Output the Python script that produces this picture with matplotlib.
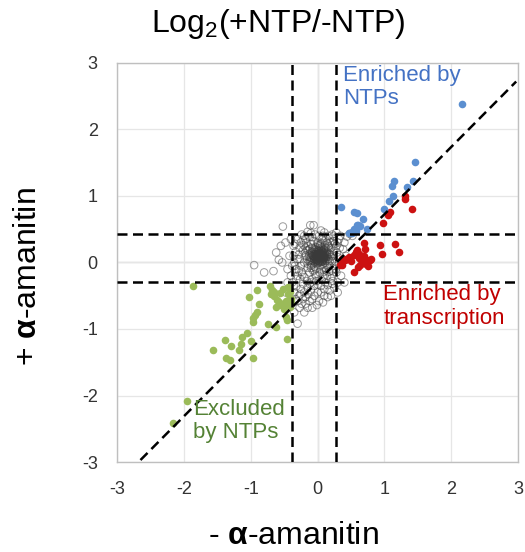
import matplotlib

matplotlib.use("Agg")
import matplotlib.pyplot as plt

plt.rcParams["font.family"] = ["Liberation Sans", "DejaVu Sans"]
plt.rcParams["mathtext.fontset"] = "custom"
plt.rcParams["mathtext.rm"] = "Liberation Sans"
plt.rcParams["mathtext.bf"] = "Liberation Sans:bold"

# enriched by NTPs (blue)
blue_x = [2.16, 1.45, 1.14, 1.11, 1.43, 1.34, 1.13, 1.07, 1.00, 0.35, 0.54, 0.59,
          0.68, 0.60, 0.64, 0.58, 0.52, 0.74, 0.54, 0.59, 0.51, 0.47, 0.56]
blue_y = [2.39, 1.51, 1.22, 1.15, 1.22, 1.13, 1.00, 0.92, 0.80, 0.84, 0.76, 0.75,
          0.65, 0.56, 0.55, 0.47, 0.46, 0.51, 0.51, 0.56, 0.45, 0.44, 0.48]

# enriched by transcription (red)
red_x = [1.31, 1.30, 1.41, 1.09, 1.06, 0.98, 0.69, 0.71, 0.61, 0.54, 0.36, 0.41,
         0.79, 0.76, 0.54, 0.94, 1.15, 0.96, 1.21, 0.63, 0.43, 0.37, 0.34, 0.60,
         0.74, 0.80, 0.64, 0.57, 0.59, 0.69, 0.66, 0.50, 0.47, 0.72, 0.62]
red_y = [1.00, 0.95, 0.80, 0.76, 0.71, 0.60, 0.29, 0.21, 0.14, 0.11, -0.04, 0.03,
         0.04, -0.06, -0.15, 0.26, 0.28, 0.13, 0.16, -0.04, 0.05, 0.05, -0.04, -0.07,
         0.04, 0.05, 0.11, 0.16, 0.19, 0.09, 0.00, 0.02, 0.08, -0.02, 0.06]

# excluded by NTPs (green)
green_x = [-1.86, -0.90, -1.02, -0.68, -0.65, -0.71, -0.62, -0.45, -0.42, -0.40,
           -0.44, -0.47, -0.41, -0.61, -0.58, -0.55, -0.90, -0.93, -0.96, -0.96,
           -0.74, -0.62, -0.46, -0.47, -1.06, -1.13, -1.38, -1.30, -1.15, -1.17,
           -0.99, -1.57, -1.37, -1.31, -0.97, -0.46, -1.95, -2.17, -0.70, -0.52,
           -0.43, -0.66, -0.50, -0.40, -0.57, -0.88, -0.45]
green_y = [-0.35, -0.41, -0.52, -0.41, -0.44, -0.36, -0.67, -0.37, -0.45, -0.55,
           -0.63, -0.58, -0.67, -0.56, -0.60, -0.64, -0.74, -0.79, -0.84, -0.90,
           -0.92, -0.97, -0.86, -0.82, -1.06, -1.12, -1.16, -1.25, -1.23, -1.32,
           -1.18, -1.32, -1.43, -1.47, -1.44, -1.15, -2.08, -2.42, -0.48, -0.40,
           -0.38, -0.50, -0.70, -0.60, -0.46, -0.62, -0.48]

# all other transcripts (grey open circles)
gray_x = [0.02, 0.05, -0.03, 0.08, 0.00, -0.06, 0.10, 0.04, -0.02, 0.07,
          -0.08, 0.12, 0.01, -0.05, 0.09, 0.03, -0.10, 0.14, 0.06, -0.01,
          0.00, 0.11, -0.07, 0.04, -0.04, 0.15, 0.02, -0.12, 0.08, 0.05,
          -0.02, 0.03, 0.07, -0.05, 0.01, 0.10, -0.09, 0.13, 0.04, -0.03,
          0.06, -0.01, 0.09, -0.06, 0.02, 0.12, -0.11, 0.16, 0.00, 0.05,
          0.03, -0.04, 0.06, 0.09, -0.07, 0.01, 0.11, -0.02, 0.05, 0.08,
          -0.09, 0.13, 0.00, -0.03, 0.07, 0.04, -0.13, 0.17, 0.02, -0.06,
          0.10, -0.01, 0.14, -0.08, 0.06, 0.03, -0.11, 0.12, 0.01, 0.08,
          -0.14, -0.16, 0.18, 0.19, -0.10, 0.15, -0.05, 0.04, 0.09, -0.18,
          0.16, -0.12, 0.06, -0.02, 0.11, 0.00, -0.07, 0.13, 0.20, -0.15,
          0.07, -0.04, 0.02, 0.10, -0.09, 0.05, 0.14, -0.01, 0.08, 0.03,
          0.01, 0.04, -0.02, 0.06, 0.03, -0.04, 0.08, 0.00, 0.05, -0.01,
          0.02, 0.07, -0.05, 0.09, 0.03, 0.00, 0.05, -0.03, 0.06, 0.02,
          -0.06, 0.10, 0.04, -0.02, 0.07, 0.01, -0.04, 0.11, 0.04, 0.02,
          -0.18, -0.20, -0.15, -0.22, -0.14, -0.25, -0.17, -0.28, -0.12, -0.24,
          0.20, 0.22, 0.18, 0.25, 0.19, 0.26, 0.15, 0.28, 0.21, 0.24,
          0.00, -0.06, 0.07, 0.12, -0.10, 0.03, -0.05, 0.10, -0.02, 0.14,
          -0.30, -0.32, -0.27, -0.33, -0.20, -0.16, -0.26, -0.08, 0.06, 0.20,
          0.30, 0.32, 0.27, 0.30, 0.16, 0.02, -0.12, -0.22, 0.24, -0.04,
          -0.35, -0.36, -0.30, -0.12, 0.00, 0.12, 0.22, -0.24, 0.10, -0.15,
          -0.25, -0.30, -0.20, -0.10, 0.05, 0.18, 0.26, 0.22, -0.34, -0.36,
          -0.34, -0.28, -0.32, -0.22, -0.15, -0.05, 0.05, 0.15, 0.22, 0.28,
          0.30, 0.25, 0.29, 0.33, -0.18, -0.08, 0.08, -0.27, -0.23, -0.10,
          0.08, 0.17, -0.02, -0.19, -0.21, 0.21, 0.23, -0.36, -0.26, -0.18,
          -0.08, 0.00, 0.10, 0.20, -0.33, -0.24, -0.15, 0.08, 0.28, 0.32,
          -0.16, -0.13, 0.17, 0.18, -0.04, 0.12, -0.10, 0.06, -0.08, 0.14,
          -0.38, -0.32, -0.25, -0.35, -0.28, -0.20, -0.30, -0.22, -0.14, -0.10,
          -0.05, 0.05, -0.18, -0.27, -0.12, 0.02, 0.10, 0.18, 0.25, 0.15,
          -0.40, -0.42, -0.40, -0.38, -0.45, 0.34, 0.38, 0.36, 0.40, 0.35,
          -0.52, -0.58, -0.53, -0.95, -0.80, -0.66, -0.48, -0.55, -0.11, -0.06,
          -0.30, -0.01, -0.08, 0.44, 0.48, 0.52, -0.40, -0.35, -0.48, 0.30,
          -0.62, 0.42, -0.20, 0.40, -0.45]
gray_y = [0.08, 0.10, 0.06, 0.04, 0.12, 0.09, 0.11, 0.02, 0.15, 0.16,
          0.03, 0.06, -0.01, 0.13, 0.19, 0.05, 0.07, 0.13, 0.07, 0.03,
          0.18, 0.00, 0.16, 0.13, 0.00, 0.09, 0.21, 0.11, -0.02, 0.15,
          0.10, 0.09, 0.12, 0.05, 0.06, 0.15, 0.12, 0.03, -0.04, 0.19,
          0.01, 0.08, 0.08, 0.02, 0.14, 0.17, 0.04, 0.05, 0.00, 0.22,
          0.11, 0.04, 0.13, 0.06, 0.10, 0.17, 0.08, 0.01, 0.19, 0.14,
          0.16, 0.10, 0.05, 0.23, 0.03, 0.11, 0.09, 0.14, 0.02, 0.20,
          0.20, 0.12, 0.15, -0.03, 0.18, 0.24, 0.00, 0.22, 0.26, 0.09,
          0.18, 0.05, 0.02, 0.16, -0.08, -0.06, -0.06, 0.27, -0.08, 0.22,
          0.24, 0.20, -0.10, -0.09, 0.26, 0.28, -0.12, -0.12, 0.08, -0.02,
          0.07, 0.09, 0.11, 0.06, 0.14, 0.04, 0.08, 0.13, 0.10, 0.12,
          0.09, 0.11, 0.07, 0.05, 0.14, 0.10, 0.09, 0.04, 0.17, 0.12,
          0.02, 0.14, 0.08, 0.06, 0.07, 0.10, 0.08, 0.13, 0.11, 0.16,
          0.06, 0.08, 0.05, 0.04, 0.02, 0.13, 0.16, 0.13, 0.09, 0.11,
          0.10, 0.00, -0.08, 0.18, 0.24, -0.05, 0.30, 0.12, -0.15, -0.14,
          0.22, 0.10, -0.05, 0.18, 0.30, 0.02, 0.28, 0.25, -0.12, 0.32,
          0.30, 0.32, 0.34, 0.33, 0.28, -0.15, -0.12, -0.14, -0.20, -0.20,
          0.05, -0.10, 0.22, 0.16, -0.22, -0.28, -0.25, -0.25, -0.26, -0.24,
          0.08, -0.02, -0.10, 0.30, 0.40, 0.40, 0.38, 0.34, 0.40, 0.42,
          0.00, 0.25, -0.20, -0.32, -0.33, -0.30, -0.32, 0.42, 0.45, 0.46,
          0.30, 0.35, 0.40, 0.44, 0.48, 0.36, 0.28, 0.42, 0.28, 0.10,
          -0.05, -0.12, -0.25, -0.32, -0.38, -0.35, -0.35, -0.34, -0.20, -0.15,
          -0.30, -0.05, 0.15, 0.22, 0.35, 0.38, 0.40, 0.05, -0.18, -0.30,
          -0.22, -0.14, -0.28, 0.14, 0.26, 0.02, -0.28, -0.35, -0.48, -0.52,
          -0.55, -0.45, -0.50, -0.50, -0.55, -0.62, -0.68, -0.60, 0.45, 0.35,
          0.18, 0.02, 0.22, 0.12, -0.18, -0.08, -0.05, 0.28, 0.22, 0.30,
          -0.30, -0.36, -0.40, -0.45, -0.50, -0.45, -0.58, -0.55, -0.48, -0.42,
          -0.50, -0.45, -0.62, -0.68, -0.58, -0.58, -0.40, -0.42, -0.38, -0.52,
          -0.20, 0.10, 0.35, -0.05, -0.30, 0.40, 0.20, 0.00, 0.30, -0.20,
          0.54, 0.04, 0.00, -0.04, -0.15, -0.13, 0.30, 0.25, 0.56, 0.56,
          -0.92, -0.64, -0.68, 0.39, 0.43, 0.40, -0.60, -0.75, -0.45, -0.45,
          0.15, 0.10, -0.75, -0.30, -0.10]

# cut-offs and fitted diagonal
vlines = [-0.38, 0.27]
hlines = [0.43, -0.30]
diag_x = [-2.65, 2.97]
diag_y = [-2.97, 2.72]

ticks = [-3, -2, -1, 0, 1, 2, 3]

DASH = (4, 2.2)


def main() -> None:
    fig = plt.figure(figsize=(5.25, 5.52), dpi=100)
    ax = fig.add_axes([0.223, 0.163, 0.764, 0.723])

    ax.set_xlim(-3, 3)
    ax.set_ylim(-3, 3)
    ax.set_xticks(ticks)
    ax.set_yticks(ticks)
    ax.set_xticklabels([str(t) for t in ticks])
    ax.set_yticklabels([str(t) for t in ticks])
    ax.tick_params(length=0, labelsize=13, labelcolor="#333333", pad=14)
    ax.grid(color="#e6e6e6", linewidth=0.9)
    ax.set_axisbelow(True)
    ax.axhline(0, color="#b0b0b0", linewidth=0.9, zorder=0.5)
    ax.axvline(0, color="#b0b0b0", linewidth=0.9, zorder=0.5)
    for spine in ax.spines.values():
        spine.set_color("#bfbfbf")
        spine.set_linewidth(1.0)

    ax.scatter(gray_x, gray_y, s=30, facecolors="none", edgecolors="#3a3a3a",
               linewidths=0.7, alpha=0.5, zorder=2)
    ax.scatter(green_x, green_y, s=30, color="#9bbb59", linewidths=0, zorder=3)
    ax.scatter(red_x, red_y, s=30, color="#cc1111", linewidths=0, zorder=3)
    ax.scatter(blue_x, blue_y, s=30, color="#5b8fd0", linewidths=0, zorder=3)

    for x in vlines:
        ax.axvline(x, color="black", linestyle=(0, DASH), linewidth=1.8, zorder=4)
    for y in hlines:
        ax.axhline(y, color="black", linestyle=(0, DASH), linewidth=1.8, zorder=4)
    ax.plot(diag_x, diag_y, color="black", linestyle=(0, DASH), linewidth=1.8, zorder=4)

    ax.text(0.38, 2.97, "Enriched by\nNTPs", color="#4472c4", fontsize=16,
            va="top", ha="left", linespacing=1.15, zorder=5)
    ax.text(0.98, -0.33, "Enriched by\ntranscription", color="#c00000", fontsize=16,
            va="top", ha="left", linespacing=1.15, zorder=5)
    ax.text(-1.86, -2.05, "Excluded\nby NTPs", color="#548235", fontsize=16,
            va="top", ha="left", linespacing=1.15, zorder=5)

    fig.text(0.53, 1 - 24 / 552, r"Log$_\mathregular{2}$(+NTP/-NTP)", fontsize=23,
             ha="center", va="center")
    fig.text(0.558, 1 - 536 / 552, r"- $\mathbf{\alpha}$-amanitin", fontsize=23,
             ha="center", va="center")
    fig.text(0.053, 1 - 277 / 552, r"+ $\mathbf{\alpha}$-amanitin", fontsize=23,
             ha="center", va="center", rotation=90)

    fig.savefig("out.png", dpi=100)
    plt.close(fig)


if __name__ == "__main__":
    main()
